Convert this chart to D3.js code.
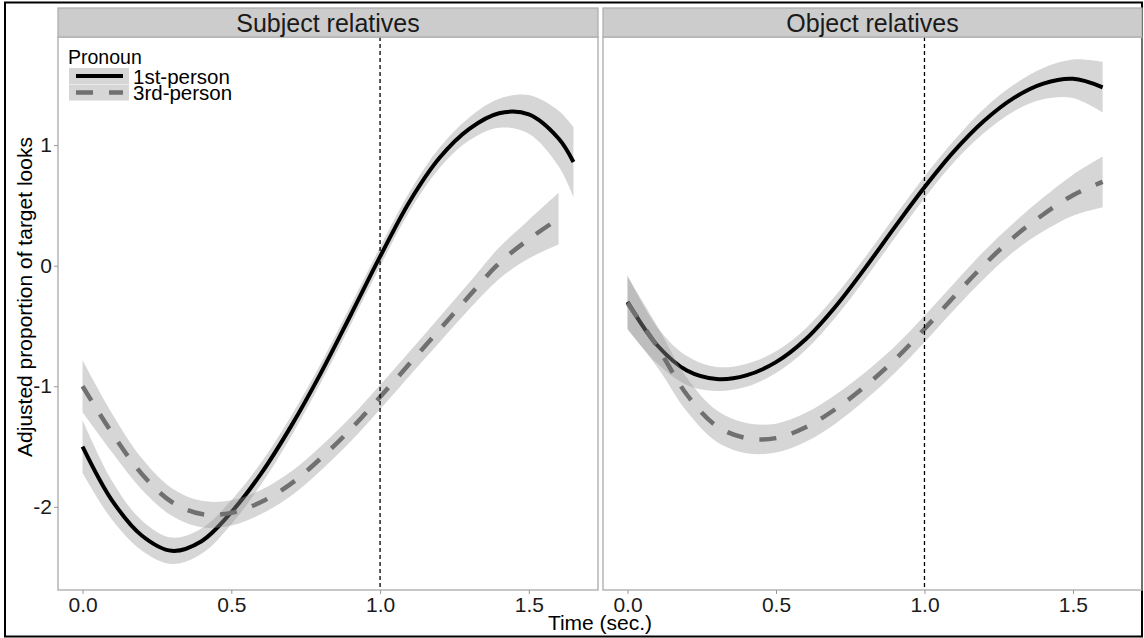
<!DOCTYPE html>
<html>
<head>
<meta charset="utf-8">
<script src="https://cdn.jsdelivr.net/npm/d3@7"></script>
<style>
  body { margin: 0; background: #fff; }
  text { font-family: "Liberation Sans", Arial, sans-serif; }
</style>
</head>
<body>
<div id="chart"></div>
<script>
// Data (time in sec., adjusted proportion of target looks)
const panels = ["Subject relatives", "Object relatives"];
const pronouns = ["1st-person", "3rd-person"];
const time = [0, 0.1, 0.2, 0.3, 0.4, 0.5, 0.6, 0.7, 0.8, 0.9, 1.0, 1.1, 1.2, 1.3, 1.4, 1.5, 1.6];
const timeSubj1st = [0, 0.1, 0.2, 0.3, 0.4, 0.5, 0.6, 0.7, 0.8, 0.9, 1.0, 1.1, 1.2, 1.3, 1.4, 1.5, 1.6, 1.65];

const subj1st = [-1.50, -1.95, -2.24, -2.365, -2.285, -2.045, -1.725, -1.335, -0.895, -0.415, 0.075, 0.535, 0.895, 1.135, 1.265, 1.255, 1.055, 0.86];
const subj1stSe = [0.22, 0.16, 0.125, 0.11, 0.105, 0.1, 0.09, 0.085, 0.08, 0.08, 0.08, 0.08, 0.085, 0.095, 0.12, 0.16, 0.23, 0.29];
const subj3rd = [-1.00, -1.39, -1.73, -1.96, -2.06, -2.05, -1.96, -1.81, -1.60, -1.36, -1.09, -0.81, -0.53, -0.25, 0.02, 0.22, 0.39];
const subj3rdSe = [0.215, 0.16, 0.13, 0.115, 0.11, 0.105, 0.1, 0.1, 0.1, 0.1, 0.1, 0.1, 0.105, 0.11, 0.13, 0.16, 0.215];

const obj1st = [-0.30, -0.66, -0.87, -0.94, -0.91, -0.80, -0.61, -0.34, -0.02, 0.32, 0.65, 0.95, 1.20, 1.39, 1.51, 1.55, 1.48];
const obj1stSe = [0.22, 0.15, 0.12, 0.1, 0.095, 0.09, 0.09, 0.09, 0.09, 0.09, 0.09, 0.09, 0.1, 0.11, 0.13, 0.16, 0.21];
const obj3rd = [-0.31, -0.67, -1.07, -1.33, -1.43, -1.43, -1.34, -1.19, -1.00, -0.78, -0.525, -0.255, 0.005, 0.235, 0.425, 0.585, 0.695];
const obj3rdSe = [0.22, 0.17, 0.14, 0.13, 0.125, 0.12, 0.12, 0.12, 0.115, 0.11, 0.11, 0.11, 0.115, 0.12, 0.14, 0.17, 0.21];

const xTicks = [0, 0.5, 1.0, 1.5];
const yTicks = [-2, -1, 0, 1];
const refTime = 1.0;

//Chart Variables and Constants
const width = 1144;
const height = 638;
const panelTop = 37;
const panelBottom = 590;
const stripTop = 8;
const panelX = [58, 603];
const panelW = [540, 539];
const lineColors = { "1st-person": "#000000", "3rd-person": "#707070" };
const lineDash = { "1st-person": null, "3rd-person": "17,16" };
const lineWidth = { "1st-person": 4, "3rd-person": 4.5 };

const zip = (t, v, se) => t.map((d, i) => ({ t: d, v: v[i], se: se[i] }));
const panelData = [
  [
    { pronoun: "1st-person", values: zip(timeSubj1st, subj1st, subj1stSe) },
    { pronoun: "3rd-person", values: zip(time, subj3rd, subj3rdSe) }
  ],
  [
    { pronoun: "1st-person", values: zip(time, obj1st, obj1stSe) },
    { pronoun: "3rd-person", values: zip(time, obj3rd, obj3rdSe) }
  ]
];

const svg = d3.select("#chart")
  .append("svg")
  .attr("width", width)
  .attr("height", height)
  .style("display", "block")
  .style("background", "#fff");

//Outer frame
svg.append("rect")
  .attr("x", 5).attr("y", 2.5)
  .attr("width", 1137).attr("height", 634)
  .attr("fill", "none")
  .attr("stroke", "#000")
  .attr("stroke-width", 2);

const y = d3.scaleLinear().domain([-2.69, 1.897]).range([panelBottom, panelTop]);

panels.forEach((title, p) => {
  const x = d3.scaleLinear()
    .domain([-0.0825, 1.7325])
    .range([panelX[p], panelX[p] + panelW[p]]);

  const g = svg.append("g");

  //Ribbon and line per group (ribbon of the next group is drawn over the previous line)
  const area = d3.area()
    .x((d) => x(d.t))
    .y0((d) => y(d.v - d.se))
    .y1((d) => y(d.v + d.se))
    .curve(d3.curveCatmullRom);
  const line = d3.line()
    .x((d) => x(d.t))
    .y((d) => y(d.v))
    .curve(d3.curveCatmullRom);

  panelData[p].forEach((s) => {
    g.append("path")
      .attr("d", area(s.values))
      .attr("fill", "#999")
      .attr("fill-opacity", 0.4);
    g.append("path")
      .attr("d", line(s.values))
      .attr("fill", "none")
      .attr("stroke", lineColors[s.pronoun])
      .attr("stroke-width", lineWidth[s.pronoun])
      .attr("stroke-dasharray", lineDash[s.pronoun]);
  });

  //Reference line at 1 sec.
  g.append("line")
    .attr("x1", x(refTime)).attr("x2", x(refTime))
    .attr("y1", panelTop).attr("y2", panelBottom)
    .attr("stroke", "#000")
    .attr("stroke-width", 1.3)
    .attr("stroke-dasharray", "4,3");

  //Panel border
  g.append("rect")
    .attr("x", panelX[p]).attr("y", panelTop)
    .attr("width", panelW[p]).attr("height", panelBottom - panelTop)
    .attr("fill", "none")
    .attr("stroke", "#aaaaaa")
    .attr("stroke-width", 1.3);

  //Strip
  g.append("rect")
    .attr("x", panelX[p]).attr("y", stripTop)
    .attr("width", panelW[p]).attr("height", panelTop - stripTop)
    .attr("fill", "#cccccc")
    .attr("stroke", "#b0b0b0")
    .attr("stroke-width", 1.3);
  g.append("text")
    .attr("x", panelX[p] + panelW[p] / 2)
    .attr("y", 31.5)
    .attr("text-anchor", "middle")
    .attr("font-size", "25px")
    .attr("fill", "#1a1a1a")
    .text(title);

  //X axis
  const xAxis = g.append("g")
    .attr("transform", `translate(0,${panelBottom})`)
    .call(d3.axisBottom(x).tickValues(xTicks).tickFormat(d3.format(".1f")).tickSize(4).tickPadding(3));
  xAxis.select(".domain").remove();
  xAxis.selectAll(".tick line").attr("stroke", "#999");
  xAxis.selectAll(".tick text")
    .attr("font-size", "21px")
    .attr("font-family", "Liberation Sans, Arial, sans-serif")
    .attr("fill", "#1a1a1a");

  //Y axis (left panel only), plain hyphen minus as in the reference
  if (p === 0) {
    const yAxis = g.append("g")
      .attr("transform", `translate(${panelX[p]},0)`)
      .call(d3.axisLeft(y).tickValues(yTicks).tickFormat((d) => String(d)).tickSize(4).tickPadding(2));
    yAxis.select(".domain").remove();
    yAxis.selectAll(".tick line").attr("stroke", "#999");
    yAxis.selectAll(".tick text")
      .attr("font-size", "21px")
      .attr("font-family", "Liberation Sans, Arial, sans-serif")
      .attr("fill", "#1a1a1a");
  }
});

//Axis titles
svg.append("text")
  .attr("x", 600)
  .attr("y", 630)
  .attr("text-anchor", "middle")
  .attr("font-size", "21px")
  .attr("fill", "#000")
  .text("Time (sec.)");

svg.append("text")
  .attr("transform", "translate(32,297) rotate(-90)")
  .attr("text-anchor", "middle")
  .attr("font-size", "21px")
  .attr("fill", "#000")
  .text("Adjusted proportion of target looks");

//Legend
const legend = svg.append("g").attr("transform", "translate(69,0)");
legend.append("text")
  .attr("x", -1)
  .attr("y", 64)
  .attr("font-size", "19.5px")
  .attr("fill", "#000")
  .text("Pronoun");

const items = legend.selectAll(".legend-item")
  .data(pronouns)
  .enter()
  .append("g")
  .attr("class", "legend-item")
  .attr("transform", (d, i) => `translate(0,${68 + i * 16.5})`);

items.append("rect")
  .attr("width", 60)
  .attr("height", 16)
  .attr("fill", "#999")
  .attr("fill-opacity", 0.4);

items.append("line")
  .attr("x1", 7).attr("x2", 54)
  .attr("y1", 8).attr("y2", 8)
  .attr("stroke", (d) => lineColors[d])
  .attr("stroke-width", (d) => lineWidth[d])
  .attr("stroke-dasharray", (d) => lineDash[d]);

items.append("text")
  .attr("x", 64)
  .attr("y", 15.5)
  .attr("font-size", "20.5px")
  .attr("fill", "#000")
  .text((d) => d);
</script>
</body>
</html>
